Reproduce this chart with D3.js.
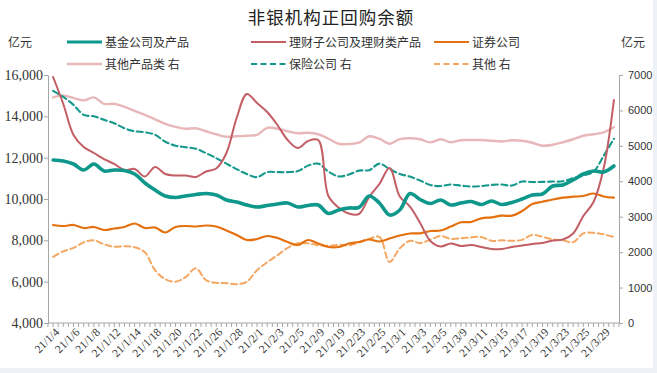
<!DOCTYPE html>
<html><head><meta charset="utf-8">
<script src="https://cdn.jsdelivr.net/npm/d3@7"></script>
<style>
html,body{margin:0;padding:0;background:#eef1f5;}
svg{display:block;}
</style></head>
<body>
<svg id="c" width="657" height="373"></svg>
<script>
const dates = ["21/1/4","21/1/5","21/1/6","21/1/7","21/1/8","21/1/11","21/1/12","21/1/13","21/1/14","21/1/15",
"21/1/18","21/1/19","21/1/20","21/1/21","21/1/22","21/1/25","21/1/26","21/1/27","21/1/28","21/1/29",
"21/2/1","21/2/2","21/2/3","21/2/4","21/2/5","21/2/8","21/2/9","21/2/18","21/2/19","21/2/22",
"21/2/23","21/2/24","21/2/25","21/2/26","21/3/1","21/3/2","21/3/3","21/3/4","21/3/5","21/3/8",
"21/3/9","21/3/10","21/3/11","21/3/12","21/3/15","21/3/16","21/3/17","21/3/18","21/3/19","21/3/22",
"21/3/23","21/3/24","21/3/25","21/3/26","21/3/29","21/3/30"];

// left axis series (亿元)
const fund = [11888,11839,11694,11404,11694,11355,11404,11380,11210,10775,
10436,10146,10073,10146,10218,10266,10194,9952,9855,9710,
9613,9686,9758,9807,9613,9686,9710,9299,9468,9565,
9589,10146,9807,9226,9468,10266,9976,9783,9952,9710,
9807,9879,9734,9904,9734,9831,10000,10194,10242,10630,
10679,10920,11210,11355,11307,11597];
const wealth = [15903,14597,13097,12516,12226,11935,11694,11403,11452,11089,
11548,11210,11137,11137,11065,11331,11476,12226,13919,15081,
14645,14210,13581,12855,12468,12806,12855,10145,9589,9298,
9274,10097,10726,11500,10121,9637,8839,7968,7702,7847,
7726,7774,7677,7581,7581,7677,7750,7823,7871,7992,
8040,8331,9177,9855,11500,14790];
const securities = [8742,8694,8742,8597,8645,8500,8573,8645,8815,8597,
8621,8379,8645,8694,8669,8718,8669,8476,8258,8016,
8065,8210,8113,7919,7774,8016,7847,7677,7677,7847,
7919,8040,7944,8089,8234,8331,8340,8452,8476,8669,
8873,8887,9066,9115,9192,9192,9419,9758,9869,9976,
10063,10111,10145,10266,10121,10063];

// right axis series (亿元)
const otherProducts = [6367,6424,6353,6283,6367,6185,6185,6100,5988,5875,
5749,5622,5538,5482,5496,5412,5327,5257,5271,5285,
5313,5510,5482,5412,5355,5369,5327,5201,5060,5052,
5088,5271,5201,5060,5192,5215,5187,5097,5187,5102,
5159,5164,5164,5144,5125,5159,5144,5088,5004,5032,
5102,5187,5285,5327,5383,5524];
const insurance = [6550,6381,6157,5875,5833,5735,5636,5496,5412,5383,
5313,5116,5004,4962,4920,4793,4653,4498,4343,4203,
4118,4259,4259,4259,4287,4442,4498,4273,4138,4189,
4301,4315,4498,4343,4208,4132,4020,3894,3865,3908,
3879,3851,3865,3899,3908,3879,3992,3978,3983,3992,
4000,4090,4161,4273,4723,5201];
const others = [1869,2024,2122,2277,2333,2221,2151,2165,2137,1996,
1490,1237,1167,1293,1546,1209,1133,1124,1096,1167,
1490,1715,1912,2122,2249,2249,2193,2179,2207,2193,
2277,2375,2432,1723,2108,2319,2257,2353,2460,2375,
2390,2418,2426,2319,2333,2319,2347,2488,2432,2361,
2333,2277,2530,2544,2502,2426];

const leftTicks = [4000,6000,8000,10000,12000,14000,16000];
const rightTicks = [0,1000,2000,3000,4000,5000,6000,7000];

const seriesDefs = [
  {name:"基金公司及产品", data:fund, axis:"L", color:"#0e978b", width:3.6, dash:null},
  {name:"理财子公司及理财类产品", data:wealth, axis:"L", color:"#c25e64", width:2, dash:null},
  {name:"证券公司", data:securities, axis:"L", color:"#e4700f", width:2.2, dash:null},
  {name:"其他产品类 右", data:otherProducts, axis:"R", color:"#e8b7b9", width:2.4, dash:null},
  {name:"保险公司 右", data:insurance, axis:"R", color:"#16998c", width:2.1, dash:"6,3.5"},
  {name:"其他 右", data:others, axis:"R", color:"#f4a763", width:2, dash:"6,3.5"}
];

const svg = d3.select("#c");
svg.append("rect").attr("x",0).attr("y",0).attr("width",653).attr("height",368).attr("fill","#fff");

const x0 = 48, x1 = 619, yTop = 75, yBot = 323;
const x = d3.scaleBand().domain(dates).range([x0,x1]).paddingInner(0).paddingOuter(0);
const yL = d3.scaleLinear().domain([4000,16000]).range([yBot,yTop]);
const yR = d3.scaleLinear().domain([0,7000]).range([yBot,yTop]);
const cx = d => x(d) + x.bandwidth()/2;

// title
svg.append("text").attr("x",331).attr("y",24).attr("text-anchor","middle")
  .attr("font-family","'Noto Sans CJK SC'").attr("font-size",17.5).attr("fill","#222")
  .attr("letter-spacing",1).text("非银机构正回购余额");

// units
svg.append("text").attr("x",8).attr("y",47).attr("font-family","'Noto Sans CJK SC'").attr("font-size",12).attr("fill","#333").text("亿元");
svg.append("text").attr("x",621).attr("y",47).attr("font-family","'Noto Sans CJK SC'").attr("font-size",12).attr("fill","#333").text("亿元");

// legend
const legPos = [[67,42],[251,42],[434,42],[67,64],[251,64],[434,64]];
seriesDefs.forEach((s,i)=>{
  const [lx,ly] = legPos[i];
  svg.append("line").attr("x1",lx).attr("x2",lx+35).attr("y1",ly).attr("y2",ly)
    .attr("stroke",s.color).attr("stroke-width",Math.min(s.width,3))
    .attr("stroke-dasharray",s.dash);
  svg.append("text").attr("x",lx+38).attr("y",ly+4.5).attr("font-family","'Noto Sans CJK SC'")
    .attr("font-size",12).attr("fill","#333").text(s.name);
});

const axisColor = "#a6a6a6";
// left axis
const gL = svg.append("g").attr("transform",`translate(${x0},0)`)
  .call(d3.axisLeft(yL).tickValues(leftTicks).tickSize(4).tickSizeOuter(0).tickFormat(d3.format(",")));
gL.select(".domain").attr("stroke",axisColor);
gL.selectAll(".tick line").attr("stroke",axisColor);
gL.selectAll(".tick text").attr("font-family","'Liberation Serif'").attr("font-size",14).attr("fill","#333").attr("x",-5);

// right axis
const gR = svg.append("g").attr("transform",`translate(${x1},0)`)
  .call(d3.axisRight(yR).tickValues(rightTicks).tickSize(4).tickSizeOuter(0).tickFormat(d3.format("d")));
gR.select(".domain").attr("stroke",axisColor);
gR.selectAll(".tick line").attr("stroke",axisColor);
gR.selectAll(".tick text").attr("font-family","'Liberation Sans'").attr("font-size",11).attr("fill","#333").attr("x",9);

// bottom axis line + ticks every half category
const gB = svg.append("g");
gB.append("line").attr("x1",x0).attr("x2",x1).attr("y1",yBot).attr("y2",yBot).attr("stroke",axisColor);
const half = x.bandwidth()/2;
const tickXs = d3.range(0, dates.length*2+1).map(k => x0 + k*half);
gB.selectAll("line.t").data(tickXs).enter().append("line").attr("class","t")
  .attr("x1",d=>d).attr("x2",d=>d).attr("y1",yBot).attr("y2",yBot+4).attr("stroke",axisColor);
gB.selectAll("text").data(dates.filter((d,i)=>i%2===0)).enter().append("text")
  .attr("transform",d=>`translate(${cx(d)+4},${yBot+7}) rotate(-45)`)
  .attr("text-anchor","end").attr("dy","0.35em")
  .attr("font-family","'Liberation Serif'").attr("font-size",11.5).attr("fill","#333")
  .text(d=>d);

// lines
const order = [3,4,5,2,1,0];
order.forEach(i=>{
  const s = seriesDefs[i];
  const ys = s.axis==="L" ? yL : yR;
  const line = d3.line().x((d,j)=>cx(dates[j])).y(d=>ys(d)).curve(d3.curveCatmullRom.alpha(0.5));
  svg.append("path").datum(s.data).attr("d",line).attr("fill","none")
    .attr("stroke",s.color).attr("stroke-width",s.width)
    .attr("stroke-dasharray",s.dash).attr("stroke-linejoin","round").attr("stroke-linecap","round");
});
</script>
</body></html>
